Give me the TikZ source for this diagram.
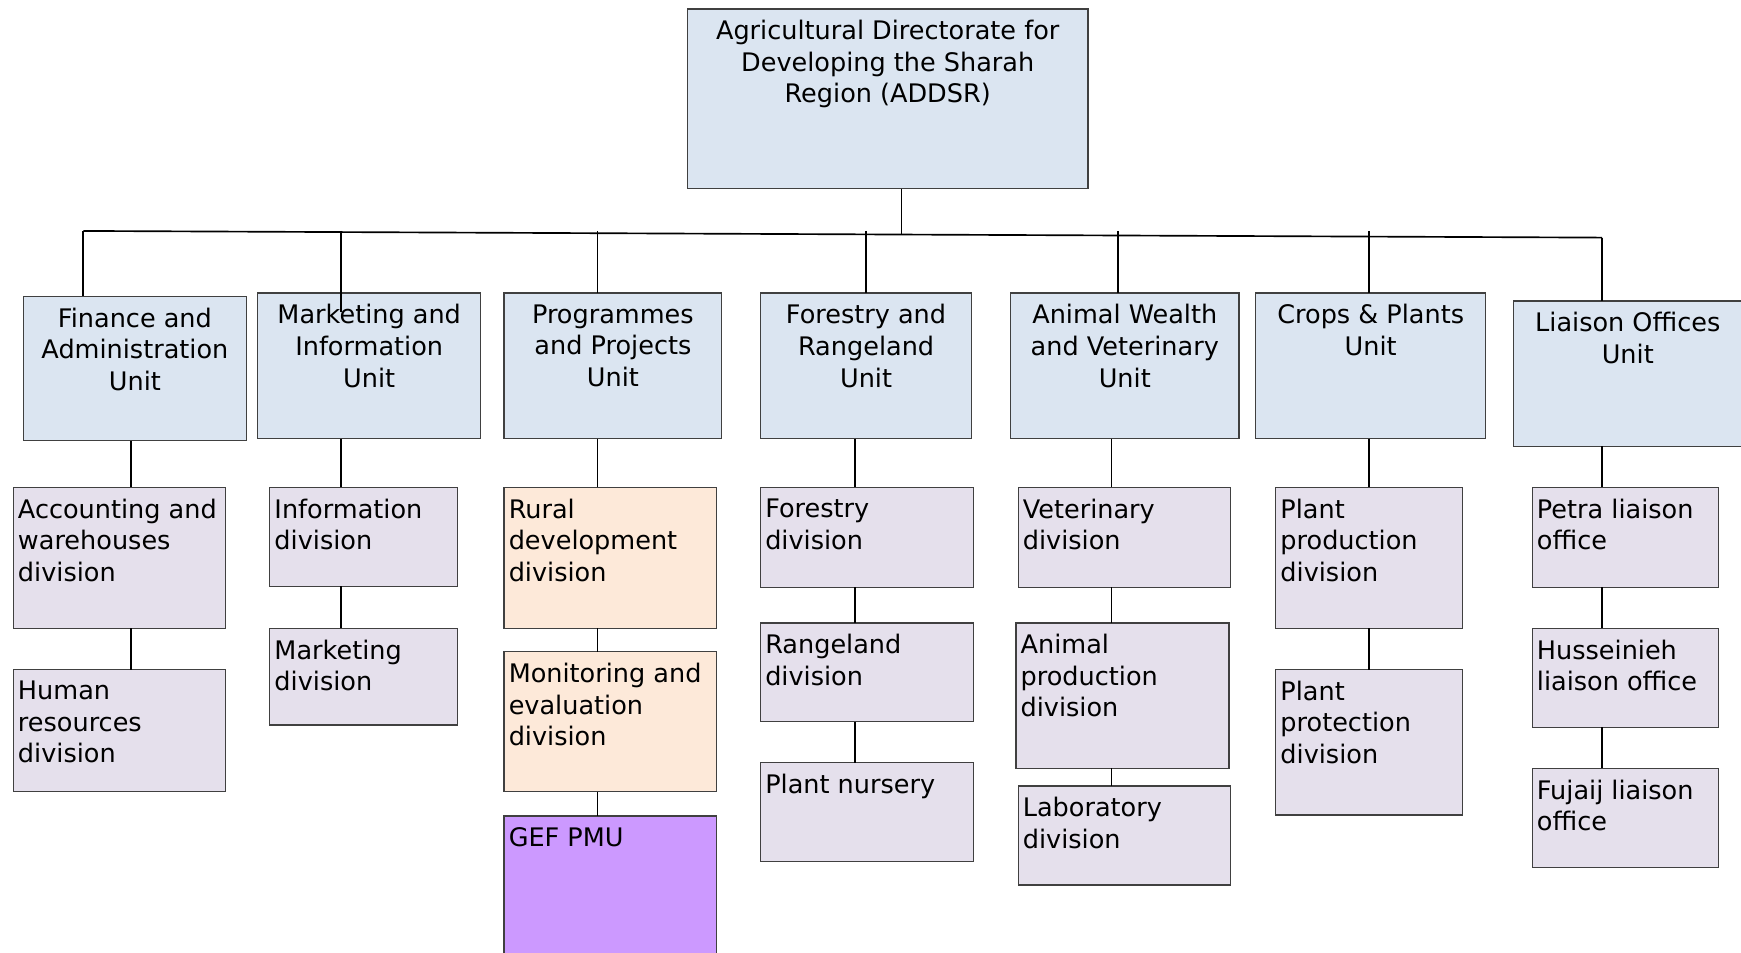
\documentclass[tikz,border=0pt]{standalone}
\usepackage{fontspec}
\setmainfont{DejaVu Sans}
\definecolor{unitblue}{HTML}{DBE5F1}
\definecolor{divlav}{HTML}{E5E0EC}
\definecolor{peach}{HTML}{FDE9D9}
\definecolor{gefpurple}{HTML}{CC99FF}
\definecolor{bordercol}{HTML}{404040}
\tikzset{
  box/.style={draw=bordercol, line width=1.2pt, anchor=north west, inner sep=0pt, outer sep=0pt},
  unit/.style={box, fill=unitblue},
  utext/.style={align=center, anchor=north, yshift=-10pt, inner sep=0pt, font=\fontsize{23}{28.5}\selectfont},
  dtext/.style={align=left, anchor=north west, xshift=4pt, yshift=-10pt, inner sep=0pt, font=\fontsize{23}{28.5}\selectfont},
  conn/.style={draw=black, line width=1.5pt}
}
\newcommand\UnitBox[6]{\node[unit, minimum width=#4-#2, minimum height=#5-#3] (#1) at (#2,#3) {};
  \node[utext] (#1-t) at (#1.north) {#6};}
\newcommand\DivBox[7]{\node[box, fill=#2, minimum width=#5-#3, minimum height=#6-#4] (#1) at (#3,#4) {};
  \node[dtext] (#1-t) at (#1.north west) {#7};}
\begin{document}
\begin{tikzpicture}[x=1pt,y=-1pt]
\clip (0,0) rectangle (1568,858);
\fill[white] (0,0) rectangle (1568,858);
% top
\UnitBox{top}{619}{8}{980}{170}{Agricultural Directorate for\\Developing the Sharah\\Region (ADDSR)}
% units
\UnitBox{fin}{21}{267}{222}{397}{Finance and\\Administration\\Unit}
\UnitBox{mkt}{232}{264}{433}{395}{Marketing and\\Information\\Unit}
\UnitBox{prog}{454}{264}{650}{395}{Programmes\\and Projects\\Unit}
\UnitBox{for}{685}{264}{875}{395}{Forestry and\\Rangeland\\Unit}
\UnitBox{anim}{910}{264}{1116}{395}{Animal Wealth\\and Veterinary\\Unit}
\UnitBox{crop}{1131}{264}{1338}{395}{Crops \& Plants\\Unit}
\UnitBox{liai}{1363}{271}{1569}{402}{Liaison Offices\\Unit}
% divisions
\DivBox{acc}{divlav}{12}{439}{203}{566}{Accounting and\\warehouses\\division}
\DivBox{hr}{divlav}{12}{603}{203}{713}{Human\\resources\\division}
\DivBox{info}{divlav}{243}{439}{412}{528}{Information\\division}
\DivBox{mdiv}{divlav}{243}{566}{412}{653}{Marketing\\division}
\DivBox{rural}{peach}{454}{439}{645}{566}{Rural\\development\\division}
\DivBox{mon}{peach}{454}{587}{645}{713}{Monitoring and\\evaluation\\division}
\DivBox{gef}{gefpurple}{454}{735}{645}{870}{GEF PMU}
\DivBox{fdiv}{divlav}{685}{439}{877}{529}{Forestry\\division}
\DivBox{rdiv}{divlav}{685}{561}{877}{650}{Rangeland\\division}
\DivBox{nurs}{divlav}{685}{687}{877}{776}{Plant nursery}
\DivBox{vet}{divlav}{917}{439}{1108}{529}{Veterinary\\division}
\DivBox{aprod}{divlav}{915}{561}{1107}{692}{Animal\\production\\division}
\DivBox{lab}{divlav}{917}{708}{1108}{797}{Laboratory\\division}
\DivBox{pprod}{divlav}{1149}{439}{1317}{566}{Plant\\production\\division}
\DivBox{pprot}{divlav}{1149}{603}{1317}{734}{Plant\\protection\\division}
\DivBox{petra}{divlav}{1380}{439}{1548}{529}{Petra liaison\\office}
\DivBox{huss}{divlav}{1380}{566}{1548}{655}{Husseinieh\\liaison office}
\DivBox{fuj}{divlav}{1380}{692}{1548}{781}{Fujaij liaison\\office}
% bus
\coordinate (busL) at (75,208);
\coordinate (busR) at (1443,214);
\draw[conn] (busL) -- (busR);
\draw[conn] (812,0 |- top.south) -- (812,211);
\draw[conn] (busL) -- (75,0 |- fin.north);
\draw[conn] (307,208) -- (307,281);
\draw[conn] (538,208) -- (538,0 |- prog.north);
\draw[conn] (780,208) -- (780,0 |- for.north);
\draw[conn] (1007,208) -- (1007,0 |- anim.north);
\draw[conn] (1233,208) -- (1233,0 |- crop.north);
\draw[conn] (busR) -- (1443,0 |- liai.north);
% column connectors
\draw[conn] (118,0 |- fin.south) -- (118,0 |- acc.north);
\draw[conn] (118,0 |- acc.south) -- (118,0 |- hr.north);
\draw[conn] (307,0 |- mkt.south) -- (307,0 |- info.north);
\draw[conn] (307,0 |- info.south) -- (307,0 |- mdiv.north);
\draw[conn] (538,0 |- prog.south) -- (538,0 |- rural.north);
\draw[conn] (538,0 |- rural.south) -- (538,0 |- mon.north);
\draw[conn] (538,0 |- mon.south) -- (538,0 |- gef.north);
\draw[conn] (770,0 |- for.south) -- (770,0 |- fdiv.north);
\draw[conn] (770,0 |- fdiv.south) -- (770,0 |- rdiv.north);
\draw[conn] (770,0 |- rdiv.south) -- (770,0 |- nurs.north);
\draw[conn] (1001,0 |- anim.south) -- (1001,0 |- vet.north);
\draw[conn] (1001,0 |- vet.south) -- (1001,0 |- aprod.north);
\draw[conn] (1001,0 |- aprod.south) -- (1001,0 |- lab.north);
\draw[conn] (1233,0 |- crop.south) -- (1233,0 |- pprod.north);
\draw[conn] (1233,0 |- pprod.south) -- (1233,0 |- pprot.north);
\draw[conn] (1443,0 |- liai.south) -- (1443,0 |- petra.north);
\draw[conn] (1443,0 |- petra.south) -- (1443,0 |- huss.north);
\draw[conn] (1443,0 |- huss.south) -- (1443,0 |- fuj.north);
\end{tikzpicture}
\end{document}
